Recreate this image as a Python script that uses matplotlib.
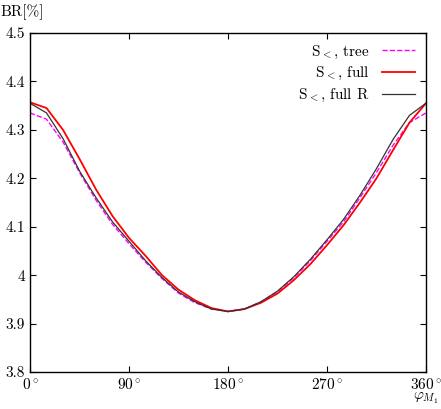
import numpy as np
import matplotlib
matplotlib.use("Agg")
import matplotlib.pyplot as plt

plt.rcParams['mathtext.fontset'] = 'cm'
plt.rcParams['font.family'] = ['cmr10', 'DejaVu Serif']
plt.rcParams['axes.unicode_minus'] = False

phi = [0, 15, 30, 45, 60, 75, 90, 105, 120, 135, 150, 165, 180,
       195, 210, 225, 240, 255, 270, 285, 300, 315, 330, 345, 360]
br_tree = [4.335, 4.322, 4.275, 4.212, 4.155, 4.105, 4.065, 4.027, 3.993, 3.963, 3.943, 3.93, 3.925,
           3.93, 3.945, 3.966, 3.995, 4.03, 4.07, 4.11, 4.16, 4.212, 4.268, 4.315, 4.335]
br_full = [4.357, 4.345, 4.30, 4.24, 4.177, 4.122, 4.077, 4.04, 4.0, 3.97, 3.948, 3.932, 3.925,
           3.93, 3.943, 3.962, 3.99, 4.023, 4.062, 4.103, 4.15, 4.2, 4.258, 4.315, 4.355]
br_fullR = [4.355, 4.335, 4.282, 4.215, 4.16, 4.11, 4.07, 4.03, 3.995, 3.965, 3.945, 3.93, 3.925,
            3.93, 3.945, 3.967, 3.997, 4.033, 4.073, 4.115, 4.165, 4.22, 4.28, 4.33, 4.355]

fig = plt.figure(figsize=(4.41, 4.09), dpi=100)
ax = fig.add_axes([30/441, 1 - 372/409, 396/441, 339/409])

ax.plot(phi, br_tree, color='magenta', ls='--', lw=1.0, label=r'S$_{<}$, tree')
ax.plot(phi, br_full, color='red', lw=1.3, label=r'S$_{<}$, full')
ax.plot(phi, br_fullR, color='#333333', lw=0.9, label=r'S$_{<}$, full R')

ax.set_xlim(0, 360)
ax.set_ylim(3.8, 4.5)
ax.set_xticks([0, 90, 180, 270, 360])
ax.set_xticklabels([r'0$^\circ$', r'90$^\circ$', r'180$^\circ$', r'270$^\circ$', r'360$^\circ$'])
ax.set_yticks([3.8, 3.9, 4.0, 4.1, 4.2, 4.3, 4.4, 4.5])
ax.set_yticklabels(['3.8', '3.9', '4', '4.1', '4.2', '4.3', '4.4', '4.5'])
ax.tick_params(direction='in', top=True, right=True, labelsize=11, length=4)
for s in ax.spines.values():
    s.set_linewidth(1.0)

fig.text(0, 1 - 12/409, 'BR[%]', fontsize=11, va='center', ha='left')
fig.text(0.995, 1 - 398/409, r'$\varphi_{M_1}$', fontsize=11, va='center', ha='right')

leg = ax.legend(loc='upper right', frameon=False, markerfirst=False, fontsize=11,
                handlelength=2.2, labelspacing=0.3, borderaxespad=0.3)

fig.savefig('out.png', dpi=100)
